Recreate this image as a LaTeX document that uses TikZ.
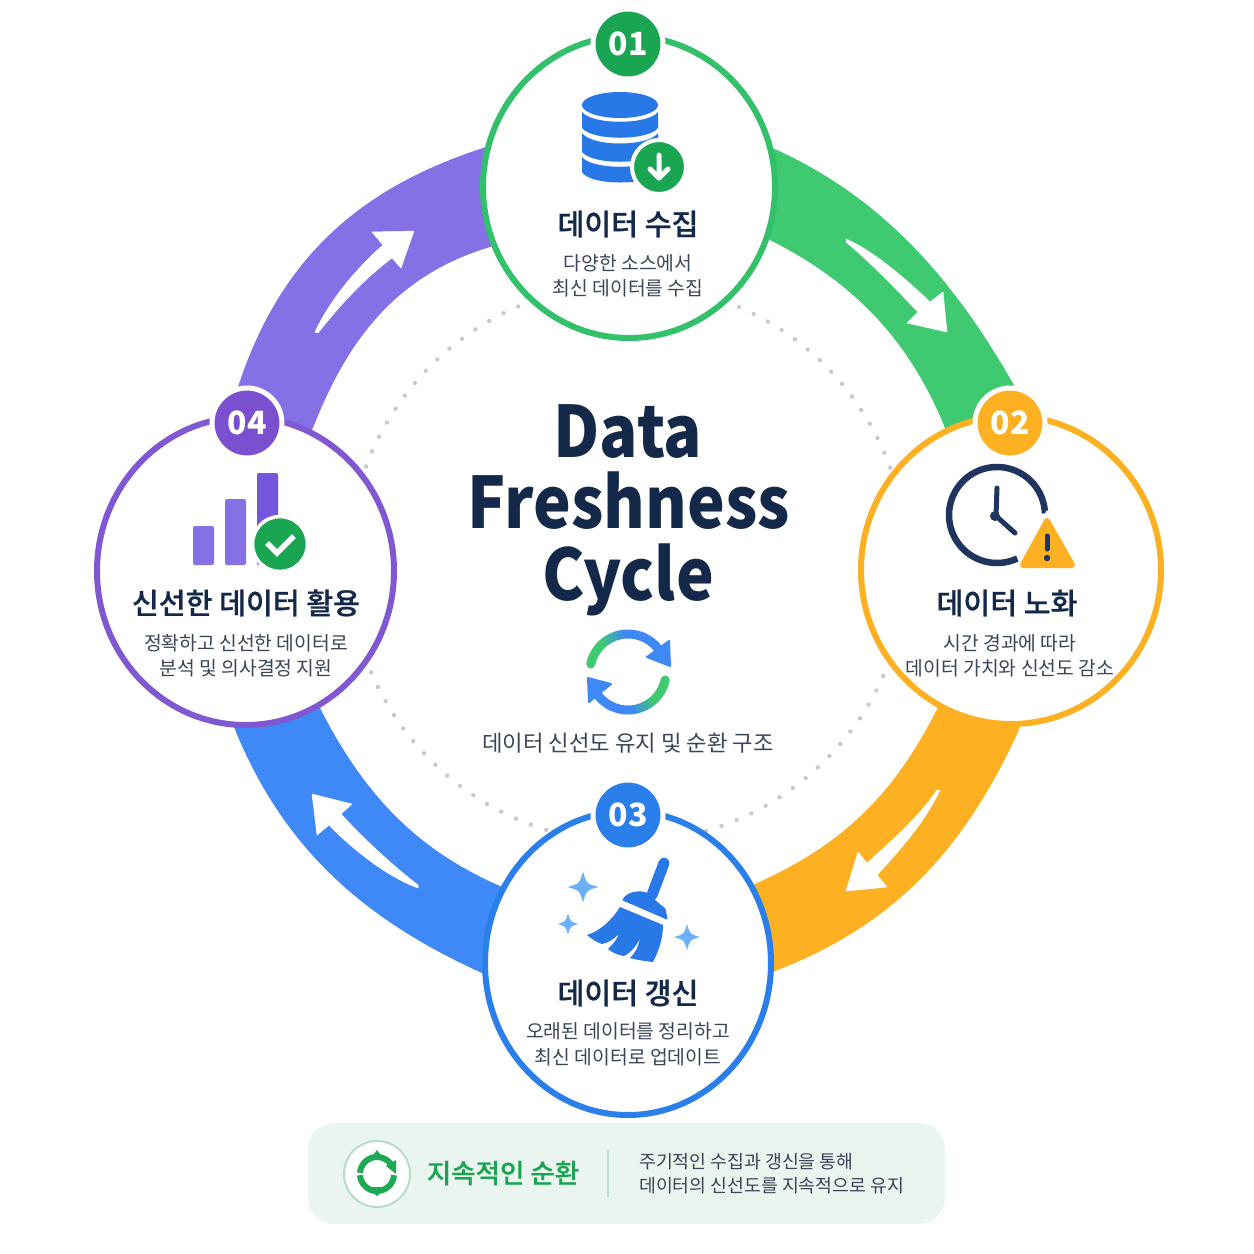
\documentclass[tikz,border=0pt]{standalone}
\usepackage{fontspec}
\setmainfont{Noto Sans CJK KR}
\newfontfamily\latn[FakeStretch=0.895]{Noto Sans CJK KR}
\newfontfamily\krm[FakeBold=0.7]{Noto Sans CJK KR Medium}
\newfontfamily\krp[FakeBold=0.45]{Noto Sans CJK KR Medium}
\usetikzlibrary{shapes.geometric}
\definecolor{cGreen}{HTML}{3FC971}
\definecolor{cGreenR}{HTML}{33C06A}
\definecolor{cGreenD}{HTML}{1AA552}
\definecolor{cOrange}{HTML}{FDB022}
\definecolor{cBlue}{HTML}{3F88F7}
\definecolor{cBlueR}{HTML}{2B7FEB}
\definecolor{cPurple}{HTML}{8670E6}
\definecolor{cPurpleR}{HTML}{7F58D2}
\definecolor{cPurpleD}{HTML}{7A4FD0}
\definecolor{cNavy}{HTML}{14284A}
\definecolor{cText}{HTML}{3A4558}
\definecolor{cDot}{HTML}{C6CAD0}
\definecolor{cPanel}{HTML}{EAF5EF}
\definecolor{cPanelL}{HTML}{B8DCC8}
\definecolor{cClock}{HTML}{1F3560}
\definecolor{cSpark}{HTML}{6AB0F8}
\definecolor{cIcon}{HTML}{2878E8}
\tikzset{
  band/.style={fill=#1,draw=none},
  whitearrow/.style={fill=white,draw=white,line width=.5pt,line join=round},
  stage/.style={ellipse,draw=#1,fill=white,line width=6pt,inner sep=0pt},
  badge/.style={circle,fill=#1,draw=white,line width=5pt,minimum size=70pt,inner sep=0pt,text=white,font=\fontsize{32}{32}\selectfont\bfseries},
  ttl/.style={anchor=base,text=cNavy,font=\krm\fontsize{29.2}{29}\selectfont,inner sep=0pt},
  sub/.style={anchor=base,text=cText,font=\fontsize{19.3}{19}\selectfont,inner sep=0pt},
  bigt/.style={anchor=base,text=cNavy,font=\latn\fontsize{71}{71}\selectfont\bfseries,inner sep=0pt},
}
\newcommand{\spark}[4]{\fill[#4] (#1,#2-#3) .. controls (#1+.22*#3,#2-.22*#3) .. (#1+#3,#2) .. controls (#1+.22*#3,#2+.22*#3) .. (#1,#2+#3) .. controls (#1-.22*#3,#2+.22*#3) .. (#1-#3,#2) .. controls (#1-.22*#3,#2-.22*#3) .. cycle;}
\begin{document}
\begin{tikzpicture}[x=1pt,y=-1pt]
\useasboundingbox (0,0) rectangle (1254,1254);
\fill[white] (0,0) rectangle (1254,1254);
% dotted ring
\draw[cDot,line width=4.4pt,line cap=round,dash pattern=on 0.01pt off 16.2pt] (628,563) circle (279pt);
% bands
\fill[band=cGreen] (750,140) -- (777,150) .. controls (886,200) and (956,283) .. (1015,387) -- (1030,430) -- (955,455) -- (943,423) .. controls (908,340) and (855,283) .. (770,240) -- (745,225) -- cycle;
\fill[band=cOrange] (1030,700) -- (1018,732) .. controls (966,845) and (898,924) .. (775,971) -- (750,980) -- (735,895) -- (757,883) .. controls (842,845) and (893,795) .. (935,713) -- (945,695) -- cycle;
\fill[band=cBlue] (225,700) -- (236,732) .. controls (285,850) and (365,920) .. (482,973) -- (510,985) -- (525,900) -- (500,886) .. controls (415,849) and (364,793) .. (322,712) -- (312,690) -- cycle;
\fill[band=cPurple] (225,430) -- (238,387) .. controls (280,258) and (360,188) .. (483,148) -- (510,140) -- (515,235) -- (490,247) .. controls (400,274) and (350,335) .. (315,423) -- (305,445) -- cycle;
% white arrows
\fill[whitearrow] (846,239) .. controls (872,250) and (905,278) .. (930,302) -- (943,292) -- (947,332) -- (907,323) -- (918,312) .. controls (895,288) and (870,262) .. (846,242) -- cycle;
\fill[whitearrow] (940,790) .. controls (925,822) and (900,850) .. (877,875) -- (887,887) -- (846,891) -- (858,852) -- (867,863) .. controls (895,838) and (920,815) .. (937,790) -- cycle;
\fill[whitearrow] (418,888) .. controls (390,878) and (355,852) .. (329,825) -- (317,835) -- (312,794) -- (352,804) -- (341,814) .. controls (365,840) and (392,865) .. (418,885) -- cycle;
\fill[whitearrow] (315,332) .. controls (330,300) and (355,270) .. (383,245) -- (372,232) -- (414,231) -- (401,268) -- (392,258) .. controls (365,278) and (340,305) .. (318,333) -- cycle;
% stage circles
\node[stage=cGreenR,minimum width=292pt,minimum height=302pt] (c1) at (629,187) {};
\node[stage=cOrange,minimum width=300pt,minimum height=308pt] (c2) at (1011,570) {};
\node[stage=cBlueR,minimum width=286pt,minimum height=304pt] (c3) at (628,963) {};
\node[stage=cPurpleR,minimum width=297pt,minimum height=308pt] (c4) at (245.5,571) {};
% badges
\node[badge=cGreenD] (b1) at (628,44) {01};
\node[badge=cOrange] (b2) at (1010,423) {02};
\node[badge=cBlueR] (b3) at (628,815) {03};
\node[badge=cPurpleD] (b4) at (247,423) {04};
% stage texts
\node[ttl] (t1) at (628,235) {데이터 수집};
\node[sub] (s1a) at (628,270) {다양한 소스에서};
\node[sub] (s1b) at (628,295) {최신 데이터를 수집};
\node[ttl] (t2) at (1007,614) {데이터 노화};
\node[sub] (s2a) at (1010,650) {시간 경과에 따라};
\node[sub] (s2b) at (1010,675) {데이터 가치와 신선도 감소};
\node[ttl] (t3) at (628,1004) {데이터 갱신};
\node[sub] (s3a) at (628,1038) {오래된 데이터를 정리하고};
\node[sub] (s3b) at (628,1064) {최신 데이터로 업데이트};
\node[ttl] (t4) at (246,614) {신선한 데이터 활용};
\node[sub] (s4a) at (246,650) {정확하고 신선한 데이터로};
\node[sub] (s4b) at (246,675) {분석 및 의사결정 지원};
% centre title
\node[bigt] (d1) at (628,457) {Data};
\node[bigt] (d2) at (629,528) {Freshness};
\node[bigt] (d3) at (628,600) {Cycle};
\node[anchor=base,text=cText,font=\fontsize{22.3}{22}\selectfont,inner sep=0pt] (d4) at (628,751) {데이터 신선도 유지 및 순환 구조};
% refresh icon
\foreach \i in {0,...,23}{
  \pgfmathsetmacro{\a}{192+\i*5.4}
  \pgfmathsetmacro{\bb}{\a+6}
  \pgfmathsetmacro{\m}{min(100,max(0,(\i-6)*14))}
  \colorlet{segc}{cBlue!\m!cGreen}
  \draw[segc,line width=9pt] plot[domain=\a:\bb,samples=4] ({628+38*cos(\x)},{672+38*sin(\x)});
  \pgfmathsetmacro{\aa}{12+\i*5.4}
  \pgfmathsetmacro{\bc}{\aa+6}
  \draw[segc,line width=9pt] plot[domain=\aa:\bc,samples=4] ({628+38*cos(\x)},{672+38*sin(\x)});
}
\fill[cGreen] ({628+38*cos(192)},{672+38*sin(192)}) circle (4.5pt);
\fill[cGreen] ({628+38*cos(12)},{672+38*sin(12)}) circle (4.5pt);
\fill[cBlue,draw=cBlue,line width=2pt,line join=round] (669,641) -- (670,666) -- (647,657) -- cycle;
\fill[cBlue,draw=cBlue,line width=2pt,line join=round] (588,678) -- (589,702) -- (611,684) -- cycle;
% database icon
\fill[cIcon] (620,105) ellipse (38pt and 13pt);
\fill[cIcon] (582,112) .. controls (592,125) and (648,125) .. (658,112) -- (658,128) .. controls (648,141) and (592,141) .. (582,128) -- cycle;
\fill[cIcon] (582,133) .. controls (592,147) and (648,147) .. (658,133) -- (658,152) .. controls (648,165) and (592,165) .. (582,152) -- cycle;
\fill[cIcon] (582,157) .. controls (592,170) and (648,170) .. (658,157) -- (658,172) .. controls (650,186) and (590,186) .. (582,172) -- cycle;
\fill[cGreenD,draw=white,line width=4pt] (659,167) circle (27pt);
\draw[white,line width=5pt,line cap=round,line join=round] (659,155) -- (659,177) (650,169) -- (659,178) -- (668,169);
% clock icon
\draw[cClock,line width=6.5pt] plot[domain=-295:-2,samples=60] ({997+48*cos(\x)},{515+48*sin(\x)});
\draw[cClock,line width=5pt,line cap=round,line join=round] (997,488) -- (996,516) -- (1015,533);
\fill[cClock] (995,516) circle (5pt);
\fill[white] (1047,510) -- (1082,572) -- (1014,572) -- cycle;
\fill[cOrange,draw=cOrange,line width=6pt,line join=round] (1047,521) -- (1072,565) -- (1023,565) -- cycle;
\draw[cClock,line width=5pt,line cap=round] (1047,536) -- (1047,549);
\fill[cClock] (1047,558) circle (3.2pt);
% broom icon
\draw[cIcon,line width=11pt,line cap=round] (664,863) -- (652,895);
\fill[cIcon,draw=cIcon,line width=1pt,line join=round] (623,900) .. controls (626,893) and (638,890) .. (646,893) -- (665,909) -- (667,919) -- cycle;
\fill[cIcon] (620,907) -- (663,925) .. controls (663,940) and (658,952) .. (653,962) .. controls (645,961) and (637,960) .. (630,958) .. controls (635,953) and (638,948) .. (640,938) .. controls (636,947) and (630,953) .. (624,956) .. controls (618,955) and (613,953) .. (608,949) .. controls (612,945) and (616,941) .. (619,934) .. controls (614,939) and (608,943) .. (602,944) .. controls (596,942) and (592,939) .. (587,935) .. controls (600,931) and (612,920) .. (620,907) -- cycle;
\spark{583}{887}{15.5}{cSpark}
\spark{568}{924}{10.5}{cSpark}
\spark{687}{937}{13}{cSpark}
% bars icon
\fill[cPurple,rounded corners=2pt] (193,526) rectangle (214,565);
\fill[cPurple,rounded corners=2pt] (225,499) rectangle (246,565);
\fill[cPurpleR!70!cPurple!90!blue,rounded corners=2pt] (257,473) rectangle (278,565);
\fill[cGreenD,draw=white,line width=3.5pt] (280,544) circle (27.5pt);
\draw[white,line width=5.5pt,line join=miter] (267,543) -- (277,553) -- (294,536);
% bottom panel
\fill[cPanel,rounded corners=26pt] (308,1123) rectangle (945,1224);
\node[circle,fill=white,draw=cPanelL,line width=2pt,minimum size=66pt,inner sep=0pt] (ci) at (377,1174) {};
\draw[cGreenD!90!cGreen,line width=6pt] plot[domain=184:335,samples=24] ({377+17*cos(\x)},{1174+17*sin(\x)});
\draw[cGreenD!90!cGreen,line width=6pt] plot[domain=4:176,samples=24] ({377+17*cos(\x)},{1174+17*sin(\x)});
\fill[cGreenD!90!cGreen] (396,1160) -- (396,1174) -- (386,1166) -- cycle;
\fill[cGreenD!90!cGreen] (377,1150) -- (384,1159) -- (370,1159) -- cycle;
\fill[cGreenD!90!cGreen] (377,1196) -- (367,1187) -- (387,1187) -- cycle;
\node[anchor=base,text=cGreenD,font=\krp\fontsize{26.5}{27}\selectfont,inner sep=0pt] (p1) at (503,1183) {지속적인 순환};
\draw[cPanelL,line width=2pt] (608,1150) -- (608,1197);
\node[anchor=base west,text=cText,font=\fontsize{18.3}{19}\selectfont,inner sep=0pt] (p2) at (639,1168) {주기적인 수집과 갱신을 통해};
\node[anchor=base west,text=cText,font=\fontsize{18.3}{19}\selectfont,inner sep=0pt] (p3) at (639,1192) {데이터의 신선도를 지속적으로 유지};
\end{tikzpicture}
\end{document}
